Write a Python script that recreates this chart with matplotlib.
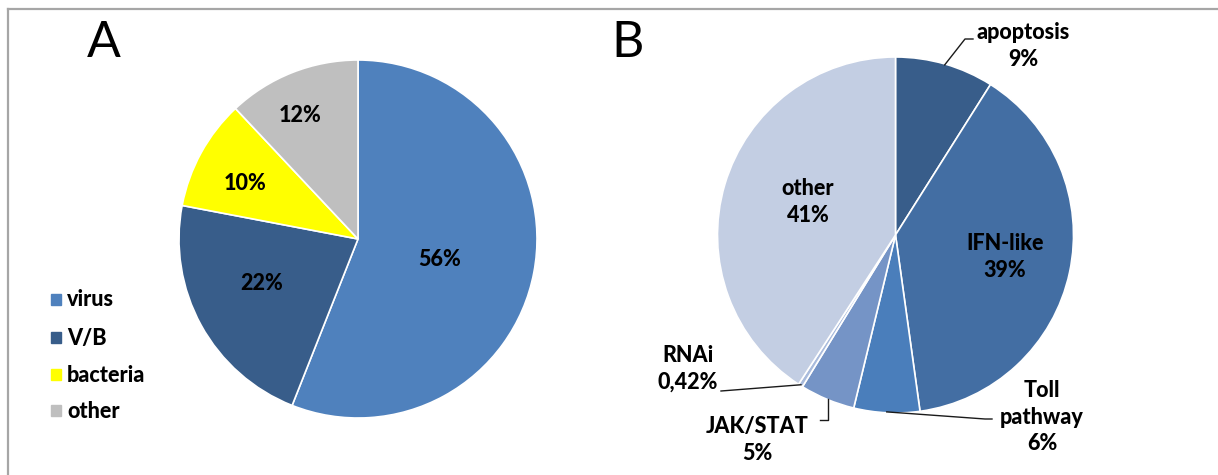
import matplotlib
matplotlib.use("Agg")
import matplotlib.pyplot as plt
from matplotlib.lines import Line2D
import numpy as np

# ---- data ----
a_labels = ["virus", "V/B", "bacteria", "other"]
a_values = [56, 22, 10, 12]
a_pct_text = ["56%", "22%", "10%", "12%"]
a_colors = ["#4F81BD", "#385D8A", "#FFFF00", "#BFBFBF"]

b_labels = ["apoptosis", "IFN-like", "Toll\npathway", "JAK/STAT", "RNAi", "other"]
b_values = [9, 39, 6, 5, 0.42, 41]
b_pct_text = ["9%", "39%", "6%", "5%", "0,42%", "41%"]
b_colors = ["#385D8A", "#436EA3", "#4A7EBB", "#7594C6", "#A9BBDC", "#C3CEE3"]

W, H = 1218, 475
plt.rcParams['font.family'] = ['Lato', 'DejaVu Sans']
fig = plt.figure(figsize=(W / 100, H / 100), dpi=100)
fig.patch.set_facecolor("white")

FS = 15.5
WT = "black"


def fx(px):
    return px / W


def fy(py):
    return 1 - py / H


def pie_axes(cx, cy, r):
    ax = fig.add_axes([fx(cx - r), fy(cy + r), 2 * r / W, 2 * r / H])
    return ax


def fix_axes(ax):
    ax.set_aspect("auto")
    ax.set_xlim(-1, 1)
    ax.set_ylim(-1, 1)
    ax.axis("off")


# frame
fig.add_artist(Line2D([fx(8), fx(1218)], [fy(9), fy(9)], color="#A6A6A6", lw=1.6))
fig.add_artist(Line2D([fx(8), fx(8)], [fy(9), fy(475)], color="#A6A6A6", lw=1.6))

# ---- panel A ----
axA = pie_axes(358, 239, 179)
wa, _ = axA.pie(a_values, colors=a_colors, startangle=90, counterclock=False,
                radius=1, wedgeprops=dict(edgecolor="white", linewidth=1.2))
fix_axes(axA)
a_label_pos = [(440, 260), (262, 283), (245, 184), (300, 115)]
for t, (x, y) in zip(a_pct_text, a_label_pos):
    fig.text(fx(x), fy(y), t, ha="center", va="center", fontsize=FS, fontweight=WT)

fig.text(fx(104), fy(43), "A", ha="center", va="center", fontsize=36, fontweight="normal")

leg_y = [300, 338, 375, 411]
for lab, col, y in zip(a_labels, a_colors, leg_y):
    fig.patches.append(plt.Rectangle((fx(51), fy(y + 5)), 10 / W, 11 / H, color=col,
                                     transform=fig.transFigure, figure=fig))
    fig.text(fx(67), fy(y), lab, ha="left", va="center", fontsize=FS, fontweight=WT)

# ---- panel B ----
bcx, bcy, br = 895.5, 235, 178
axB = pie_axes(bcx, bcy, br)
wb, _ = axB.pie(b_values, colors=b_colors, startangle=90, counterclock=False,
                radius=1, wedgeprops=dict(edgecolor="white", linewidth=1.2))
fix_axes(axB)

fig.text(fx(628), fy(43), "B", ha="center", va="center", fontsize=36, fontweight="normal")


def lab(i):
    return f"{b_labels[i]}\n{b_pct_text[i]}"


# inside labels
fig.text(fx(808), fy(202), lab(5), ha="center", va="center", fontsize=FS,
         fontweight=WT, linespacing=1.3)
fig.text(fx(1005), fy(257), lab(1), ha="center", va="center", fontsize=FS,
         fontweight=WT, linespacing=1.3)

# outside labels
out_pos = {0: (1023, 46), 2: (1042, 417), 3: (757, 440), 4: (688, 369)}
for i, (x, y) in out_pos.items():
    fig.text(fx(x), fy(y), lab(i), ha="center", va="center", fontsize=FS,
             fontweight=WT, linespacing=1.3)


def anchor(w, r=1.0):
    th = np.deg2rad((w.theta1 + w.theta2) / 2)
    return (bcx + br * r * np.cos(th), bcy - br * r * np.sin(th))


leaders = {
    0: [(965, 39), (973, 39)],
    2: [(985, 419), (992, 419)],
    3: [(826, 420), (820, 420)],
    4: [(721, 391)],
}
for i, pts in leaders.items():
    ax0, ay0 = anchor(wb[i], 0.995)
    if i == 3:
        pts = [(ax0, pts[0][1]), pts[1]]
    xs = [ax0] + [p[0] for p in pts]
    ys = [ay0] + [p[1] for p in pts]
    fig.add_artist(Line2D([fx(x) for x in xs], [fy(y) for y in ys], color="#1a1a1a", lw=1.0))

fig.savefig("out.png", dpi=100, facecolor="white")
